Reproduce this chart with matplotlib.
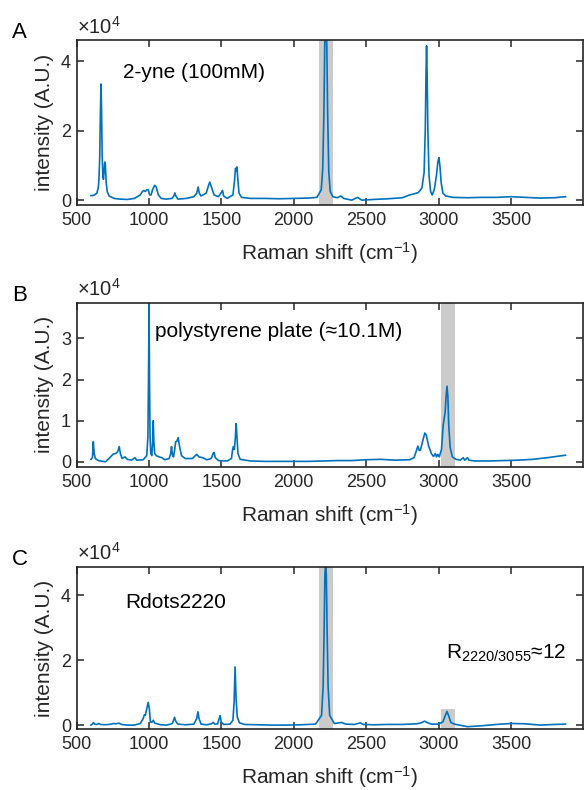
import matplotlib
matplotlib.use("Agg")
import matplotlib.pyplot as plt
from matplotlib.patches import Rectangle

plt.rcParams["font.family"] = ["Liberation Sans", "DejaVu Sans"]
plt.rcParams["mathtext.fontset"] = "custom"
plt.rcParams["mathtext.rm"] = "Liberation Sans"
plt.rcParams["mathtext.default"] = "regular"

LINE_COLOR = "#0072BD"
SHADE = "#cbcbcb"
INK = "#262626"

# spectra, intensity in units of 1e4 counts
wn_a = [600, 620, 640, 650, 655, 660, 665, 669, 673, 677, 682, 686, 690, 694, 697, 700,
        705, 712, 725, 760, 800, 850, 900, 940, 955, 965, 975, 985, 995, 1005, 1015,
        1025, 1040, 1050, 1065, 1085, 1120, 1160, 1172, 1179, 1186, 1200, 1260, 1310,
        1330, 1340, 1348, 1360, 1395, 1410, 1420, 1430, 1450, 1480, 1500, 1508, 1516,
        1540, 1580, 1592, 1598, 1603, 1608, 1614, 1622, 1640, 1700, 1800, 1900, 2000,
        2100, 2160, 2190, 2200, 2208, 2214, 2221, 2228, 2234, 2242, 2252, 2270, 2300,
        2325, 2345, 2400, 2440, 2470, 2550, 2650, 2750, 2800, 2830, 2860, 2885, 2900,
        2908, 2913, 2917, 2921, 2926, 2934, 2945, 2956, 2970, 2985, 2995, 3002, 3009,
        3018, 3030, 3050, 3100, 3200, 3300, 3400, 3500, 3600, 3700, 3800, 3876]
int_a = [0.13, 0.14, 0.2, 0.35, 0.6, 1.2, 2.5, 3.35, 2.6, 1.3, 0.7, 0.6, 0.8, 1.05, 1.1, 0.95,
         0.5, 0.25, 0.12, 0.05, 0.03, 0.02, 0.05, 0.15, 0.25, 0.28, 0.25, 0.3, 0.3, 0.15, 0.15,
         0.3, 0.43, 0.38, 0.15, 0.05, 0.03, 0.05, 0.12, 0.21, 0.12, 0.03, 0.05, 0.1,
         0.2, 0.38, 0.2, 0.12, 0.2, 0.4, 0.52, 0.4, 0.15, 0.1, 0.22, 0.28, 0.12,
         0.05, 0.15, 0.6, 0.92, 0.85, 0.96, 0.6, 0.2, 0.08, 0.05, 0.05, 0.04, 0.05,
         0.06, 0.08, 0.3, 0.9, 2.5, 4.5, 5.2, 4.5, 2.5, 0.8, 0.25, 0.1, 0.07,
         0.12, 0.05, 0.0, 0.08, 0.0, 0.02, 0.04, 0.07, 0.15, 0.18, 0.22, 0.35, 0.8,
         2.0, 3.6, 4.45, 3.6, 2.0, 0.7, 0.25, 0.15, 0.3, 0.7, 1.1, 1.23, 1.0,
         0.5, 0.2, 0.12, 0.08, 0.07, 0.08, 0.08, 0.1, 0.08, 0.06, 0.07, 0.1]

wn_b = [600, 610, 616, 622, 630, 650, 700, 730, 754, 770, 785, 795, 803, 815, 835, 850,
        880, 903, 915, 960, 985, 993, 997, 1001, 1004, 1008, 1013, 1020, 1026, 1030, 1034,
        1040, 1050, 1070, 1090, 1110, 1140, 1150, 1156, 1163, 1170, 1178, 1185, 1193, 1202,
        1210, 1225, 1250, 1300, 1320, 1330, 1345, 1370, 1400, 1430, 1443, 1450, 1458, 1480,
        1540, 1570, 1578, 1583, 1590, 1597, 1602, 1608, 1615, 1630, 1700, 1800, 1900, 2000,
        2100, 2200, 2300, 2400, 2500, 2600, 2700, 2800, 2830, 2845, 2857, 2866, 2874, 2890,
        2905, 2915, 2930, 2950, 2965, 2978, 2986, 2995, 3005, 3020, 3032, 3045, 3052, 3058,
        3064, 3070, 3080, 3095, 3120, 3150, 3170, 3180, 3200, 3210, 3250, 3350, 3450, 3550,
        3650, 3750, 3876]
int_b = [0.06, 0.1, 0.49, 0.2, 0.08, 0.03, 0.0, 0.1, 0.19, 0.2, 0.25, 0.37, 0.2, 0.08, 0.12, 0.06,
         0.04, 0.1, 0.04, 0.05, 0.15, 0.6, 2.0, 3.85, 2.0, 0.6, 0.2, 0.15, 0.5, 1.0, 0.5,
         0.2, 0.15, 0.12, 0.1, 0.05, 0.08, 0.2, 0.37, 0.15, 0.12, 0.3, 0.49, 0.5, 0.59,
         0.4, 0.15, 0.08, 0.08, 0.15, 0.18, 0.12, 0.1, 0.05, 0.08, 0.2, 0.23, 0.1, 0.03,
         0.02, 0.08, 0.3, 0.37, 0.3, 0.6, 0.93, 0.6, 0.2, 0.06, 0.02, 0.01, 0.01, 0.01,
         0.01, 0.02, 0.03, 0.03, 0.05, 0.06, 0.04, 0.05, 0.1, 0.25, 0.38, 0.28, 0.28, 0.5,
         0.7, 0.65, 0.4, 0.2, 0.13, 0.2, 0.12, 0.18, 0.12, 0.3, 0.9, 1.2, 1.6, 1.84,
         1.6, 0.9, 0.35, 0.12, 0.06, 0.04, 0.1, 0.04, 0.1, 0.04, 0.02, 0.02, 0.03, 0.04,
         0.06, 0.1, 0.16]

wn_c = [600, 610, 617, 625, 640, 655, 665, 700, 740, 755, 770, 793, 810, 850, 900, 940,
        960, 968, 975, 985, 995, 1003, 1010, 1020, 1030, 1040, 1080, 1120, 1150, 1163, 1170,
        1177, 1185, 1200, 1250, 1310, 1330, 1338, 1346, 1360, 1400, 1430, 1444, 1455, 1475,
        1485, 1492, 1499, 1515, 1560, 1580, 1588, 1595, 1602, 1610, 1625, 1660, 1750, 1850,
        1950, 2050, 2150, 2192, 2203, 2210, 2215, 2220, 2225, 2230, 2237, 2248, 2280, 2330,
        2360, 2420, 2460, 2480, 2550, 2650, 2750, 2850, 2880, 2903, 2920, 2950, 3000, 3030,
        3045, 3058, 3070, 3085, 3110, 3200, 3300, 3400, 3500, 3600, 3700, 3800, 3876]
int_c = [0.0, 0.03, 0.08, 0.03, 0.02, 0.05, 0.02, 0.01, 0.03, 0.05, 0.04, 0.06, 0.02, 0.0, 0.0, 0.05,
         0.2, 0.31, 0.3, 0.5, 0.7, 0.5, 0.1, 0.08, 0.15, 0.06, 0.01, 0.0, 0.03, 0.06, 0.15,
         0.24, 0.12, 0.03, 0.01, 0.03, 0.2, 0.41, 0.2, 0.03, 0.01, 0.04, 0.08, 0.03, 0.04,
         0.2, 0.29, 0.1, 0.02, 0.03, 0.15, 0.7, 1.79, 0.8, 0.25, 0.07, 0.02, 0.01, 0.0,
         0.0, 0.01, 0.03, 0.3, 1.2, 3.0, 4.6, 5.04, 4.6, 3.0, 1.2, 0.3, 0.05, 0.08,
         0.03, 0.02, 0.07, 0.02, 0.01, 0.02, 0.02, 0.04, 0.07, 0.12, 0.08, 0.03, 0.03, 0.1,
         0.28, 0.42, 0.28, 0.08, 0.03, -0.05, -0.02, 0.02, 0.05, 0.04, 0.0, 0.02, 0.03]

x_ticks = [500, 1000, 1500, 2000, 2500, 3000, 3500]
alkyne_band = (2175, 2270)
ch_band = (3018, 3114)


def style_axes(ax, ylim, yticks):
    ax.set_xlim(500, 4000)
    ax.set_ylim(*ylim)
    ax.set_xticks(x_ticks)
    ax.set_yticks(yticks)
    ax.tick_params(direction="in", top=True, right=True, length=5, width=1.1,
                   labelsize=13, colors=INK)
    ax.tick_params(axis="x", pad=5)
    ax.tick_params(axis="y", pad=4)
    for s in ax.spines.values():
        s.set_linewidth(1.2)
        s.set_color(INK)
    ax.set_xlabel("Raman shift (cm$^{-1}$)", fontsize=15, color=INK, labelpad=8)
    ax.set_ylabel("intensity (A.U.)", fontsize=15, color=INK, labelpad=5)
    ax.text(0.0, 1.04, "×10$^{4}$", transform=ax.transAxes, fontsize=14.5,
            color=INK, ha="left", va="baseline")


fig = plt.figure(figsize=(5.84, 7.9), dpi=100)
ax_a = fig.add_axes([0.131, 0.7405, 0.868, 0.2089])
ax_b = fig.add_axes([0.131, 0.4092, 0.868, 0.2076])
ax_c = fig.add_axes([0.131, 0.0768, 0.868, 0.2058])

# A: alkyne reference
ax_a.axvspan(*alkyne_band, color=SHADE, lw=0, zorder=0)
ax_a.plot(wn_a, int_a, color=LINE_COLOR, lw=1.2)
style_axes(ax_a, (-0.14, 4.62), [0, 2, 4])
ax_a.text(820, 3.67, "2-yne (100mM)", fontsize=15, va="center")

# B: polystyrene
ax_b.axvspan(*ch_band, color=SHADE, lw=0, zorder=0)
ax_b.plot(wn_b, int_b, color=LINE_COLOR, lw=1.2)
style_axes(ax_b, (-0.12, 3.87), [0, 1, 2, 3])
ax_b.text(1041, 3.16, "polystyrene plate (≈10.1M)", fontsize=15, va="center")

# C: Rdots2220
ax_c.axvspan(*alkyne_band, color=SHADE, lw=0, zorder=0)
ax_c.add_patch(Rectangle((ch_band[0], -0.13), ch_band[1] - ch_band[0], 0.61,
                         color=SHADE, lw=0, zorder=0))
ax_c.plot(wn_c, int_c, color=LINE_COLOR, lw=1.2)
style_axes(ax_c, (-0.13, 4.87), [0, 2, 4])
ax_c.text(835, 3.76, "Rdots2220", fontsize=15, va="center")
ax_c.text(3048, 2.2, "R$_{2220/3055}$≈12", fontsize=15, va="center")

for ax, letter in [(ax_a, "A"), (ax_b, "B"), (ax_c, "C")]:
    pos = ax.get_position()
    fig.text(0.02, pos.y1 + 0.002, letter, fontsize=16, ha="left", va="baseline")

fig.savefig("out.png", dpi=100)
